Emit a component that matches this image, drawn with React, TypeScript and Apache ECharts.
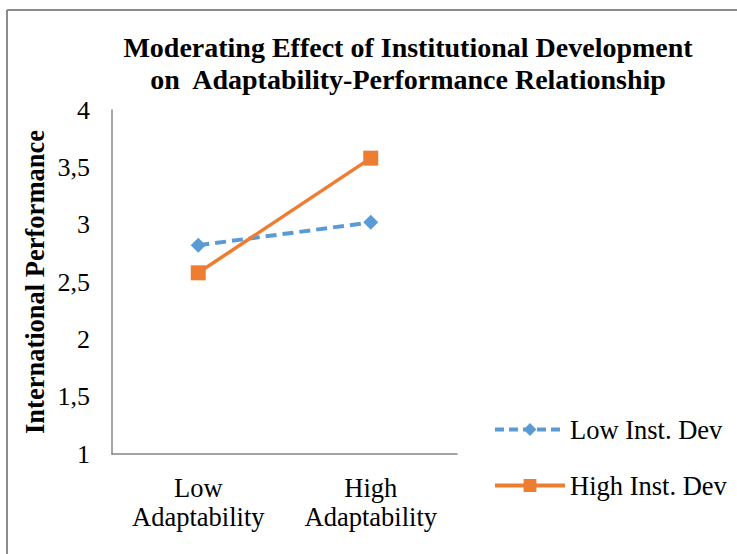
import React, { useEffect, useRef } from "react";
import * as echarts from "echarts";

const categories = ["Low\nAdaptability", "High\nAdaptability"];
const lowInstDev = [2.82, 3.02];
const highInstDev = [2.58, 3.58];
const seriesNames = ["Low Inst. Dev", "High Inst. Dev"];
const titleLines = [
  "Moderating Effect of Institutional Development",
  "on  Adaptability-Performance Relationship",
];
const yAxisName = "International Performance";

const FONT = "'Liberation Serif', 'Times New Roman', serif";
const BLUE = "#5B9BD5";
const ORANGE = "#ED7D31";

export default function App() {
  const ref = useRef<HTMLDivElement>(null);
  useEffect(() => {
    if (!ref.current) return;
    const chart = echarts.init(ref.current, undefined, { renderer: "svg" });
    chart.setOption({
      animation: false,
      backgroundColor: "#ffffff",
      title: {
        text: titleLines.join("\n"),
        left: 403,
        top: 26,
        textAlign: "center",
        textStyle: {
          fontFamily: FONT,
          fontWeight: "bold",
          fontSize: 28,
          lineHeight: 32,
          color: "#000",
        },
      },
      grid: { left: 112, right: 280, top: 110, bottom: 100 },
      legend: {
        orient: "vertical",
        left: 493,
        top: 416,
        padding: 0,
        itemWidth: 70,
        itemHeight: 16,
        itemGap: 29,
        textStyle: { fontFamily: FONT, fontSize: 26.5, lineHeight: 26, color: "#000" },
        data: [
          { name: seriesNames[0], lineStyle: { width: 4, type: [9, 5] } },
          { name: seriesNames[1], lineStyle: { width: 4 } },
        ],
      },
      xAxis: {
        type: "category",
        data: categories,
        axisLine: { lineStyle: { color: "#868686", width: 1.5 } },
        axisTick: { show: false },
        axisLabel: {
          fontFamily: FONT,
          fontSize: 26.5,
          lineHeight: 29,
          color: "#000",
          margin: 19,
        },
      },
      yAxis: {
        type: "value",
        min: 1,
        max: 4,
        interval: 0.5,
        name: yAxisName,
        nameLocation: "middle",
        nameGap: 64,
        nameTextStyle: {
          fontFamily: FONT,
          fontWeight: "bold",
          fontSize: 26.5,
          color: "#000",
        },
        axisLine: { show: true, lineStyle: { color: "#868686", width: 1.5 } },
        axisTick: { show: false },
        splitLine: { show: false },
        axisLabel: {
          fontFamily: FONT,
          fontSize: 26,
          color: "#000",
          margin: 22,
          formatter: (v: number) => String(v).replace(".", ","),
        },
      },
      series: [
        {
          name: seriesNames[0],
          type: "line",
          data: lowInstDev,
          symbol: "diamond",
          symbolSize: 15,
          itemStyle: { color: BLUE },
          lineStyle: { color: BLUE, width: 4, type: [11, 6] },
        },
        {
          name: seriesNames[1],
          type: "line",
          data: highInstDev,
          symbol: "rect",
          symbolSize: 15,
          itemStyle: { color: ORANGE },
          lineStyle: { color: ORANGE, width: 3.5 },
        },
      ],
      graphic: [
        {
          type: "line",
          shape: { x1: 7, y1: 10, x2: 737, y2: 10 },
          style: { stroke: "#8c8c8c", lineWidth: 2 },
        },
        {
          type: "line",
          shape: { x1: 7, y1: 10, x2: 7, y2: 554 },
          style: { stroke: "#8c8c8c", lineWidth: 2 },
        },
      ],
    });
    return () => chart.dispose();
  }, []);
  return (
    <div
      ref={ref}
      style={{ position: "absolute", left: 0, top: 0, width: 737, height: 554 }}
    />
  );
}
